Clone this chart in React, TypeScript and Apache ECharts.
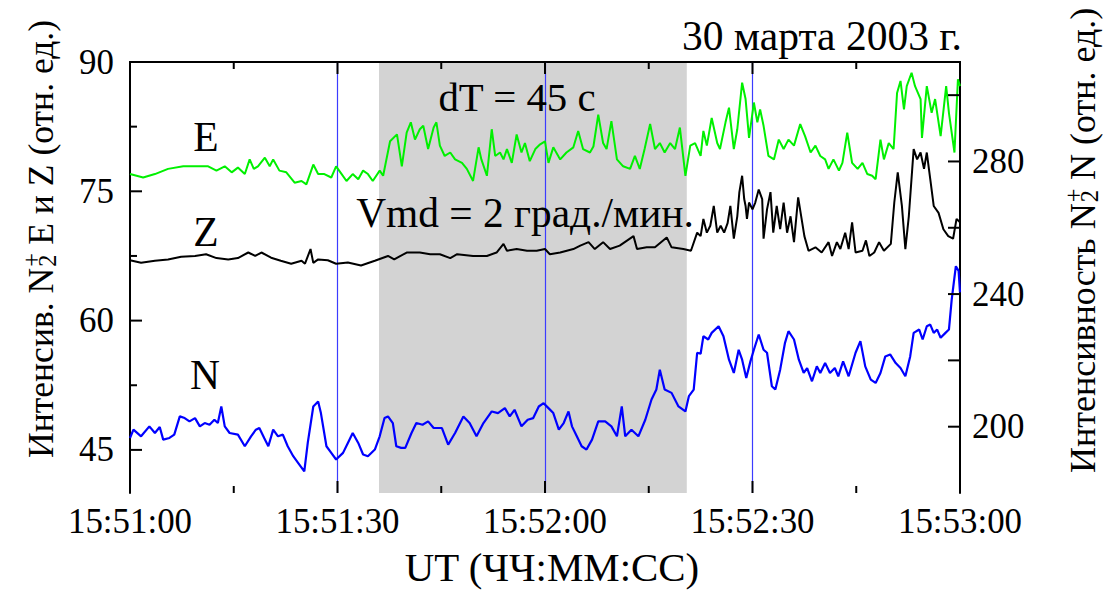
import React, { useEffect, useRef } from 'react';
import * as echarts from 'echarts';

const FONT = "'Liberation Serif', Tinos, 'DejaVu Serif', FreeSerif, 'Noto Serif', 'Times New Roman', Times, serif";

// x axis: seconds after 15:51:00
const X_MIN = 0;
const X_MAX = 120;
const BASE_H = 15;
const BASE_M = 51;
const X_MAJOR = [0, 30, 60, 90, 120];
const X_MINOR = [15, 45, 75, 105];

const LEFT_MIN = 40;
const LEFT_MAX = 90;
const LEFT_LABELS = [45, 60, 75, 90];
const LEFT_MINOR = [52.5, 67.5, 82.5];
const RIGHT_MIN = 180;
const RIGHT_MAX = 310;
const RIGHT_LABELS = [200, 240, 280];
const RIGHT_TICKS = [200, 220, 240, 260, 280, 300];
const MARK_TIMES = [30, 60, 90];
const SHADE = [36, 80.5];

const TITLE = '30 марта 2003 г.';
const X_NAME = 'UT (ЧЧ:ММ:СС)';
const NOTE_DT = 'dT = 45 с';
const NOTE_V = 'Vmd = 2 град./мин.';

// E (left axis)
const E_DATA = [[0,77.0],[1.9,76.6],[3.6,77.0],[5.5,77.6],[7.7,77.9],[9.4,77.9],[11.3,77.9],[12.5,77.4],[13.7,77.9],[14.7,77.2],[15.6,77.75],[16.6,77.0],[17.3,78.7],[17.9,77.6],[18.5,77.9],[19.5,78.9],[20.2,77.9],[20.7,78.7],[21.6,77.4],[22.6,77.2],[23.8,76.0],[24.8,76.2],[25.5,75.8],[26.2,77.4],[26.5,78.1],[27.2,77.0],[28.1,77.0],[29.1,76.6],[29.8,77.9],[30.6,77.0],[31.3,76.2],[32.2,77.0],[33.0,76.4],[33.7,77.4],[34.4,77.0],[35.1,76.2],[36.1,77.4],[36.6,76.8],[37.6,80.8],[38.6,81.6],[39.3,77.9],[40.0,81.8],[40.6,83.0],[41.2,81.0],[41.9,82.2],[42.4,82.6],[43.1,79.9],[43.9,82.4],[44.3,83.0],[44.8,80.3],[45.5,79.1],[46.3,79.5],[47.0,78.7],[48.0,78.3],[48.7,77.6],[49.6,76.2],[50.4,80.1],[50.8,78.7],[51.6,76.8],[52.3,82.2],[52.8,79.1],[53.5,79.5],[54.0,78.7],[54.5,79.9],[55.2,78.3],[55.9,81.6],[56.6,79.5],[57.1,80.6],[57.8,78.5],[58.6,79.9],[59.3,80.45],[60.0,80.8],[60.5,78.3],[61.2,80.1],[62.2,78.7],[63.1,79.5],[64.1,80.1],[64.8,82.0],[65.5,79.9],[66.5,79.5],[67.0,80.2],[67.7,83.9],[68.4,80.6],[68.9,79.9],[69.6,83.15],[70.4,78.7],[71.3,77.9],[72.3,77.6],[73.0,79.1],[73.7,77.6],[74.4,79.9],[75.2,82.8],[75.9,79.9],[76.6,80.6],[77.3,79.5],[78.1,80.6],[78.8,79.9],[79.5,82.4],[80.3,76.8],[81.0,80.3],[81.7,80.6],[82.5,79.1],[82.9,82.0],[83.4,80.3],[84.1,83.5],[84.9,80.6],[85.3,79.9],[86.1,83.0],[86.6,84.7],[87.3,79.9],[87.8,82.2],[88.5,87.6],[89.0,85.7],[89.5,81.2],[90.2,85.3],[90.7,83.0],[91.1,84.5],[91.6,82.6],[92.3,79.1],[93.1,78.7],[93.8,81.0],[94.5,79.9],[95.2,81.0],[96.0,80.3],[96.9,82.8],[97.6,81.4],[98.4,79.5],[99.1,80.3],[99.8,79.1],[100.5,78.7],[101.0,77.6],[101.7,78.7],[102.5,77.4],[103.0,78.3],[103.7,81.8],[104.4,78.3],[105.2,77.6],[105.9,78.3],[106.6,77.0],[107.3,76.8],[107.8,76.4],[108.5,81.0],[109.0,78.7],[109.7,80.6],[110.4,79.9],[110.9,86.4],[111.4,87.8],[111.9,84.5],[112.3,87.2],[113.0,88.75],[113.5,87.2],[114.3,85.7],[114.5,81.2],[115.2,87.2],[115.9,84.1],[116.4,85.7],[117.2,81.4],[118.0,87.2],[118.4,84.1],[119.2,79.5],[119.7,88.0],[120,87.2]];

// Z (left axis)
const Z_DATA = [[0,67.0],[1.6,66.7],[3.6,66.95],[5.5,67.1],[7.4,67.4],[9.4,67.5],[11.0,67.7],[12.5,67.25],[14.2,67.1],[15.6,67.25],[17.1,67.9],[18.1,67.5],[19.0,67.9],[20.4,67.3],[21.8,66.95],[23.3,66.6],[24.8,66.95],[25.3,66.6],[26.1,68.3],[26.5,66.7],[27.2,67.1],[28.6,67.0],[29.8,66.6],[31.5,66.75],[33.4,66.4],[35.4,66.95],[37.3,67.5],[38.2,67.1],[40,67.9],[41.9,67.9],[43.4,67.7],[44.8,67.7],[46.3,67.25],[47.3,67.7],[49.6,67.5],[51.6,67.5],[53.0,67.9],[54.0,68.9],[54.5,68.1],[55.9,68.3],[57.4,68.1],[58.8,68.1],[60,68.3],[60.7,67.7],[62.2,67.9],[64.1,68.3],[65.1,68.7],[66.3,69.1],[67.2,68.3],[68.4,69.1],[69.4,68.3],[70.8,68.7],[72.8,69.8],[73.3,68.3],[74.7,68.5],[75.9,68.5],[77.6,69.65],[78.3,68.5],[80.0,68.3],[81.1,68.1],[82.0,70.2],[82.5,69.8],[82.9,71.8],[83.4,70.2],[83.9,71.0],[84.4,73.3],[84.9,70.2],[85.4,71.0],[85.9,70.2],[86.4,71.3],[86.8,73.3],[87.3,69.5],[87.8,72.1],[88.1,74.9],[88.5,76.8],[88.8,74.1],[89.0,73.3],[89.2,71.8],[89.5,73.7],[90.0,72.9],[90.4,73.7],[90.9,75.2],[91.4,74.1],[91.6,69.5],[92.1,72.9],[92.6,74.9],[93.0,70.2],[93.5,73.3],[94.0,70.6],[94.5,73.7],[95.0,70.2],[95.5,72.1],[96.0,69.1],[96.6,74.3],[97.1,71.8],[97.5,69.8],[98.1,68.1],[99.1,68.5],[100.0,67.9],[101.0,69.1],[101.5,67.5],[102.2,69.1],[102.7,68.3],[103.4,70.2],[103.9,68.3],[104.4,71.4],[104.9,67.9],[105.9,68.1],[106.4,69.3],[106.9,67.5],[107.6,67.9],[108.3,69.1],[109.0,68.1],[110.0,68.9],[110.5,73.7],[111.0,77.2],[111.6,73.3],[112.1,68.3],[112.6,72.1],[113.3,79.9],[113.8,78.7],[114.3,79.5],[114.8,77.6],[115.2,79.5],[115.7,76.4],[116.2,73.3],[116.9,72.5],[117.6,70.6],[118.3,69.8],[119.0,69.5],[119.5,71.8],[120,71.4]];

// N (right axis)
const N_DATA = [[0,196.6],[0.5,199.1],[1.6,197.1],[2.8,200.1],[3.6,198.1],[4.3,199.9],[4.8,196.1],[5.7,196.6],[6.4,197.6],[7.2,203.1],[7.9,202.6],[8.6,201.6],[9.4,202.6],[10.1,200.1],[10.8,201.1],[11.5,200.6],[12.2,202.1],[12.7,201.1],[13.2,206.1],[13.7,200.1],[14.4,198.1],[15.6,197.6],[16.6,194.1],[17.5,197.1],[18.2,199.1],[18.7,199.6],[19.4,196.6],[20.0,194.1],[20.7,199.1],[21.4,197.1],[22.1,197.6],[22.8,194.1],[23.6,191.1],[24.3,189.1],[25.2,186.5],[25.7,195.1],[26.5,206.1],[27.2,207.6],[27.6,204.1],[28.4,194.1],[29.1,192.1],[29.8,190.1],[30.8,192.1],[31.5,195.1],[32.2,198.1],[33.0,195.1],[33.7,191.6],[34.4,191.1],[35.4,193.1],[36.1,197.1],[36.8,202.6],[37.3,203.1],[38.0,201.1],[38.5,194.1],[39.2,193.6],[39.8,193.6],[40.7,198.1],[41.4,201.1],[42.3,200.6],[43.1,201.6],[43.9,199.6],[45.1,199.6],[46.0,194.6],[47.0,198.1],[48.2,203.1],[49.1,201.1],[50.1,197.1],[51.1,201.1],[52.3,204.6],[53.2,204.1],[54.2,205.6],[54.9,203.1],[55.6,205.1],[56.6,200.1],[57.5,202.1],[58.3,202.6],[59.1,206.1],[59.8,207.1],[60.5,205.6],[61.2,204.1],[62.0,199.1],[62.7,201.1],[63.4,204.6],[63.9,200.1],[64.6,197.1],[65.3,194.1],[66.0,193.1],[66.8,196.1],[67.7,201.6],[68.7,201.6],[69.6,200.1],[70.4,197.1],[71.1,206.1],[71.6,197.1],[72.5,199.1],[73.5,197.1],[74.5,202.1],[75.4,208.2],[76.1,211.2],[76.6,217.2],[77.3,211.2],[78.3,210.2],[79.3,206.1],[80.3,204.6],[80.8,209.2],[81.5,211.2],[82.0,222.3],[82.5,222.0],[82.9,227.3],[83.6,226.3],[84.1,228.3],[85.1,230.3],[85.8,227.3],[86.6,220.2],[87.3,216.2],[88.0,223.2],[88.5,220.2],[89.1,214.7],[89.7,219.7],[90.2,223.2],[90.9,227.8],[91.6,223.2],[92.1,222.3],[92.8,212.2],[93.3,211.2],[94.0,217.2],[94.7,225.3],[95.2,228.8],[96.0,226.3],[96.7,220.2],[97.4,216.2],[97.9,217.7],[98.6,213.7],[99.3,218.2],[99.8,216.2],[100.5,219.2],[101.2,216.2],[101.9,217.7],[102.4,215.2],[103.1,219.7],[103.9,215.2],[104.9,222.3],[105.6,225.8],[106.3,218.2],[107.1,214.2],[107.8,213.2],[108.5,216.2],[109.2,221.2],[109.9,221.8],[110.7,219.2],[111.4,217.7],[112.1,215.2],[112.8,221.2],[113.3,228.3],[114.1,229.3],[114.6,226.3],[115.2,230.3],[115.7,230.8],[116.2,228.3],[116.7,229.3],[117.2,226.8],[117.9,228.3],[118.4,229.3],[118.8,238.3],[119.4,248.4],[119.8,247],[120,240.5]];

function pad(n: number) {
  return n < 10 ? '0' + n : '' + n;
}
function fmtTime(sec: number) {
  const total = BASE_H * 3600 + BASE_M * 60 + Math.round(sec);
  const h = Math.floor(total / 3600);
  const m = Math.floor((total % 3600) / 60);
  const s = total % 60;
  return `${h}:${pad(m)}:${pad(s)}`;
}

let ctx2d: CanvasRenderingContext2D | null = null;
function measure(text: string, size: number) {
  if (!ctx2d) ctx2d = document.createElement('canvas').getContext('2d');
  if (!ctx2d) return text.length * size * 0.5;
  ctx2d.font = `${size}px ${FONT}`;
  return ctx2d.measureText(text).width;
}
function fitSize(text: string, target: number) {
  const w = measure(text, 40);
  return Math.round(((40 * target) / w) * 10) / 10;
}

function txt(text: string, size: number, extra: any = {}) {
  return { text, fontSize: size, fontFamily: FONT, fill: '#000', ...extra };
}

function rotatedName(xCenter: number, yBottom: number, pre: string, post: string, target: number) {
  const total = (s: number) => measure(pre, s) + 2 + measure('2', s * 0.68) + measure(post, s);
  const size = Math.round(((35 * target) / total(35)) * 10) / 10;
  const sub = size * 0.68;
  const wPre = measure(pre, size);
  const w2 = measure('2', sub);
  const base = { align: 'left', verticalAlign: 'middle' };
  return {
    type: 'group',
    x: xCenter,
    y: yBottom,
    rotation: Math.PI / 2,
    silent: true,
    children: [
      { type: 'text', x: 0, y: 0, style: txt(pre, size, base) },
      { type: 'text', x: wPre + 1, y: size * 0.17, style: txt('2', sub, base) },
      { type: 'text', x: wPre + 1, y: -size * 0.26, style: txt('+', sub, base) },
      { type: 'text', x: wPre + 2 + w2, y: 0, style: txt(post, size, base) },
    ],
  };
}

// tick as a thin filled rectangle: horizontal (dir 'h') or vertical (dir 'v')
function tickRect(x: number, y: number, w: number, h: number) {
  return {
    type: 'rect', silent: true, z: 100, zlevel: 1,
    shape: { x, y, width: w, height: h },
    style: { fill: '#000', stroke: 'none' },
  };
}

export default function App() {
  const ref = useRef<HTMLDivElement>(null);

  useEffect(() => {
    if (!ref.current) return;
    const chart = echarts.init(ref.current, undefined, { renderer: 'svg' });
    const S = fitSize('15:51:30', 124);
    const lineStyle = { color: '#000', width: 2 };
    const center = { align: 'center', verticalAlign: 'middle' };
    const labelSet = new Set(LEFT_LABELS);
    const noLabel = { show: false };
    const noTick = { show: false };
    const noSplit = { show: false };
    const letter = fitSize('N', 30);

    const baseGraphic: any[] = [
      { type: 'text', x: 962, y: 36, silent: true, style: txt(TITLE, fitSize(TITLE, 280), { align: 'right', verticalAlign: 'middle' }) },
      { type: 'text', x: 517, y: 97, z: 10, silent: true, style: txt(NOTE_DT, fitSize(NOTE_DT, 158), center) },
      { type: 'text', x: 525, y: 213, z: 10, silent: true, style: txt(NOTE_V, fitSize(NOTE_V, 338), center) },
      { type: 'text', x: 206, y: 137, z: 10, silent: true, style: txt('E', letter, center) },
      { type: 'text', x: 206, y: 232, z: 10, silent: true, style: txt('Z', letter, center) },
      { type: 'text', x: 205, y: 375, z: 10, silent: true, style: txt('N', letter, center) },
      { type: 'text', x: 552, y: 567, silent: true, style: txt(X_NAME, fitSize(X_NAME, 295), center) },
      rotatedName(41, 458, 'Интенсив. N', ' E и Z (отн. ед.)', 438),
      rotatedName(1083, 473, 'Интенсивность N', ' N (отн. ед.)', 465),
    ];

    const option: any = {
      animation: false,
      backgroundColor: '#fff',
      textStyle: { fontFamily: FONT },
      grid: { left: 130, right: 143, top: 62, bottom: 97, containLabel: false },
      xAxis: [
        {
          type: 'value', position: 'bottom', min: X_MIN, max: X_MAX, interval: 30, z: 3,
          axisLine: { lineStyle }, axisTick: noTick, splitLine: noSplit,
          axisLabel: { color: '#000', fontSize: S, fontFamily: FONT, margin: 11, formatter: (v: number) => fmtTime(v) },
        },
        {
          type: 'value', position: 'top', min: X_MIN, max: X_MAX, interval: 30, z: 3,
          axisLine: { lineStyle }, axisTick: noTick, splitLine: noSplit, axisLabel: noLabel,
        },
      ],
      yAxis: [
        {
          type: 'value', position: 'left', min: LEFT_MIN, max: LEFT_MAX, z: 3,
          axisLine: { show: true, lineStyle }, axisTick: noTick, splitLine: noSplit, axisLabel: noLabel,
        },
        {
          type: 'value', position: 'left', min: 0, max: LEFT_MAX - LEFT_MIN, interval: 15, inverse: true, z: 3,
          axisLine: { show: false }, axisTick: noTick, splitLine: noSplit,
          axisLabel: {
            color: '#000', fontSize: S, fontFamily: FONT, margin: 16,
            formatter: (u: number) => {
              const v = LEFT_MAX - u;
              return labelSet.has(v) ? String(v) : '';
            },
          },
        },
        {
          type: 'value', position: 'right', min: RIGHT_MIN, max: RIGHT_MAX, interval: 20, z: 3,
          axisLine: { show: true, lineStyle }, axisTick: noTick, splitLine: noSplit,
          axisLabel: {
            color: '#000', fontSize: S, fontFamily: FONT, margin: 12,
            formatter: (v: number) => (RIGHT_LABELS.indexOf(v) >= 0 ? String(v) : ''),
          },
        },
      ],
      series: [
        {
          type: 'line', data: [], xAxisIndex: 0, yAxisIndex: 0, z: 1, silent: true,
          markArea: {
            silent: true,
            itemStyle: { color: '#d3d3d3' },
            data: [[{ xAxis: SHADE[0] }, { xAxis: SHADE[1] }]],
          },
          markLine: {
            silent: true, symbol: ['none', 'none'], label: { show: false },
            lineStyle: { color: '#3c3cff', width: 1.2, type: 'solid', opacity: 1 },
            emphasis: { disabled: true },
            data: MARK_TIMES.map((t) => ({ xAxis: t, lineStyle: { color: '#3c3cff', width: 1.2, type: 'solid' } })),
          },
        },
        {
          type: 'line', name: 'E', data: E_DATA, xAxisIndex: 0, yAxisIndex: 0, z: 5,
          showSymbol: false, symbol: 'none', lineStyle: { color: '#00f000', width: 2 },
        },
        {
          type: 'line', name: 'Z', data: Z_DATA, xAxisIndex: 0, yAxisIndex: 0, z: 5,
          showSymbol: false, symbol: 'none', lineStyle: { color: '#000', width: 2 },
        },
        {
          type: 'line', name: 'N', data: N_DATA, xAxisIndex: 0, yAxisIndex: 2, z: 5,
          showSymbol: false, symbol: 'none', lineStyle: { color: '#0000ff', width: 2.2 },
        },
      ],
      graphic: baseGraphic,
    };
    chart.setOption(option);

    // axis ticks placed through the axes' own scales
    const px = (v: number) => chart.convertToPixel({ xAxisIndex: 0 }, v) as number;
    const pyL = (v: number) => chart.convertToPixel({ yAxisIndex: 0 }, v) as number;
    const pyR = (v: number) => chart.convertToPixel({ yAxisIndex: 2 }, v) as number;
    const left = px(X_MIN);
    const right = px(X_MAX);
    const top = pyL(LEFT_MAX);
    const bottom = pyL(LEFT_MIN);
    const MAJ = 12;
    const MIN = 7;
    const T = 2;
    const ticks: any[] = [];
    X_MAJOR.forEach((v) => {
      const x = px(v);
      ticks.push(tickRect(x - T / 2, bottom - MAJ, T, MAJ));
      ticks.push(tickRect(x - T / 2, top, T, MAJ));
    });
    X_MINOR.forEach((v) => {
      const x = px(v);
      ticks.push(tickRect(x - T / 2, bottom - MIN, T, MIN));
      ticks.push(tickRect(x - T / 2, top, T, MIN));
    });
    LEFT_LABELS.forEach((v) => {
      const y = pyL(v);
      ticks.push(tickRect(left, y - T / 2, MAJ, T));
    });
    LEFT_MINOR.forEach((v) => {
      const y = pyL(v);
      ticks.push(tickRect(left, y - T / 2, MIN, T));
    });
    RIGHT_TICKS.forEach((v) => {
      const y = pyR(v);
      ticks.push(tickRect(right - MAJ, y - T / 2, MAJ, T));
    });
    chart.setOption({ graphic: [...baseGraphic, ...ticks] });

    return () => chart.dispose();
  }, []);

  return (
    <div
      ref={ref}
      style={{ position: 'fixed', left: 0, top: 0, width: 1103, height: 590, background: '#fff' }}
    />
  );
}
